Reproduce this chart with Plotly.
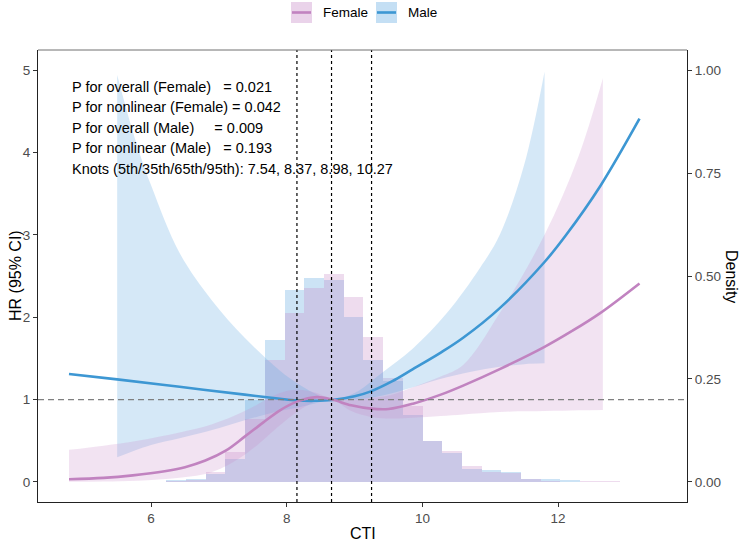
import plotly.graph_objects as go

# ---------------- data ----------------
# Histogram (density) bins
bin_edges = [6.224, 6.515, 6.805, 7.096, 7.386, 7.677, 7.967, 8.258, 8.548, 8.839, 9.129, 9.42,
             9.71, 10.001, 10.291, 10.582, 10.872, 11.163, 11.453, 11.744, 12.034, 12.325, 12.615, 12.906]
female_density = [0.002, 0.005, 0.024, 0.073, 0.154, 0.295, 0.41, 0.47, 0.506, 0.45, 0.352, 0.252,
                  0.184, 0.10, 0.074, 0.038, 0.024, 0.022, 0.007, 0.003, 0.001, 0.002, 0.002]
male_density = [0.004, 0.007, 0.020, 0.057, 0.198, 0.345, 0.467, 0.496, 0.49, 0.40, 0.295, 0.245,
                0.162, 0.10, 0.070, 0.032, 0.028, 0.024, 0.008, 0.008, 0.005, 0.0, 0.0]

# Spline HR curves
female_x = [4.79, 5.3, 5.73, 6.2, 6.5, 6.8, 7.1, 7.38, 7.65, 7.9, 8.15, 8.44, 8.67, 8.95, 9.24,
            9.5, 9.86, 10.27, 10.6, 11.14, 11.8, 12.2, 12.62, 13.2]
female_hr = [0.033, 0.05, 0.08, 0.13, 0.18, 0.26, 0.38, 0.55, 0.72, 0.87, 0.975, 1.03, 1.0, 0.93,
             0.89, 0.885, 0.95, 1.06, 1.17, 1.37, 1.64, 1.83, 2.05, 2.41]
male_x = [4.79, 5.5, 6.42, 7.38, 7.9, 8.15, 8.4, 8.67, 9.0, 9.24, 9.55, 9.86, 10.27, 10.6,
          11.14, 11.8, 12.12, 12.62, 13.2]
male_hr = [1.31, 1.245, 1.155, 1.06, 1.01, 0.99, 0.985, 0.995, 1.04, 1.10, 1.22, 1.37, 1.57, 1.75,
           2.11, 2.67, 3.0, 3.59, 4.41]

# 95% CI ribbons
female_ci_x = [4.79, 5.3, 5.8, 6.42, 6.9, 7.38, 7.9, 8.15, 8.44, 8.67, 8.95, 9.24, 9.55, 9.86, 10.27,
               10.6, 11.14, 11.8, 12.3, 12.66]
female_upper = [0.39, 0.44, 0.5, 0.6, 0.7, 0.86, 1.08, 1.12, 1.08, 1.0, 1.0, 1.02, 1.06, 1.15, 1.28,
                1.42, 2.05, 3.0, 3.95, 4.9]
female_lower = [0.003, 0.006, 0.015, 0.05, 0.12, 0.33, 0.69, 0.85, 0.98, 1.0, 0.86, 0.79, 0.77, 0.78,
                0.8, 0.82, 0.85, 0.86, 0.87, 0.874]
male_ci_x = [5.5, 5.75, 6.0, 6.42, 6.9, 7.38, 7.9, 8.15, 8.4, 8.67, 9.0, 9.41, 9.86, 10.36, 10.85,
             11.14, 11.5, 11.8]
male_upper = [4.94, 4.2, 3.6, 2.78, 2.2, 1.75, 1.35, 1.2, 1.08, 1.0, 1.08, 1.33, 1.62, 2.05, 2.6,
              3.0, 3.85, 4.98]
male_lower = [0.30, 0.38, 0.45, 0.53, 0.63, 0.75, 0.86, 0.9, 0.95, 1.0, 1.0, 1.05, 1.15, 1.27, 1.36,
              1.4, 1.43, 1.44]

cut_lines = [8.15, 8.66, 9.25]
stat_lines = [
    "P for overall (Female)\u00a0\u00a0\u00a0= 0.021",
    "P for nonlinear (Female) = 0.042",
    "P for overall (Male)\u00a0\u00a0\u00a0\u00a0\u00a0= 0.009",
    "P for nonlinear (Male)\u00a0\u00a0\u00a0= 0.193",
    "Knots (5th/35th/65th/95th): 7.54, 8.37, 8.98, 10.27",
]
stat_y = [4.8, 4.55, 4.3, 4.05, 3.8]
x_ticks = [6, 8, 10, 12]
hr_ticks = [0, 1, 2, 3, 4, 5]
dens_ticks = [0, 0.25, 0.5, 0.75, 1.0]
dens_labels = ["0.00", "0.25", "0.50", "0.75", "1.00"]

# ---------------- style ----------------
FONT = "Liberation Sans, Arial, sans-serif"
PINK = "rgb(193,131,192)"
BLUE = "rgb(61,151,211)"
PINK_BASE = "200,140,200"
BLUE_BASE = "100,170,225"

W, H = 744, 542
L, R, T, B = 38, 57, 50, 40
PW, PH = W - L - R, H - T - B


def px_x(p):
    return (p - L) / PW


def px_y(p):
    return (H - B - p) / PH


fig = go.Figure()

centers = [(bin_edges[i] + bin_edges[i + 1]) / 2 for i in range(len(bin_edges) - 1)]
widths = [bin_edges[i + 1] - bin_edges[i] for i in range(len(bin_edges) - 1)]

fig.add_trace(go.Bar(x=centers, y=male_density, width=widths, yaxis="y",
                     marker=dict(color=f"rgba({BLUE_BASE},0.33)", line=dict(width=0)),
                     showlegend=False, hoverinfo="skip"))
fig.add_trace(go.Bar(x=centers, y=female_density, width=widths, yaxis="y",
                     marker=dict(color=f"rgba({PINK_BASE},0.30)", line=dict(width=0)),
                     showlegend=False, hoverinfo="skip"))

# ribbons
for xs, lo, up, base, a in [(male_ci_x, male_lower, male_upper, BLUE_BASE, 0.27),
                            (female_ci_x, female_lower, female_upper, PINK_BASE, 0.24)]:
    fig.add_trace(go.Scatter(x=xs, y=lo, yaxis="y2", mode="lines", line=dict(width=0, shape="spline"),
                             showlegend=False, hoverinfo="skip"))
    fig.add_trace(go.Scatter(x=xs, y=up, yaxis="y2", mode="lines", line=dict(width=0, shape="spline"),
                             fill="tonexty", fillcolor=f"rgba({base},{a})",
                             showlegend=False, hoverinfo="skip"))

fig.add_trace(go.Scatter(x=male_x, y=male_hr, yaxis="y2", mode="lines",
                         line=dict(color=BLUE, width=2.6, shape="spline", smoothing=1.0),
                         showlegend=False))
fig.add_trace(go.Scatter(x=female_x, y=female_hr, yaxis="y2", mode="lines",
                         line=dict(color=PINK, width=2.6, shape="spline", smoothing=1.0),
                         showlegend=False))

shapes = []
# reference line HR = 1
shapes.append(dict(type="line", xref="paper", x0=0, x1=1, yref="y2", y0=1, y1=1,
                   line=dict(color="#7F7F7F", width=1.3, dash="6px,4px")))
for c in cut_lines:
    shapes.append(dict(type="line", xref="x", x0=c, x1=c, yref="paper", y0=0, y1=1,
                       line=dict(color="black", width=1.2, dash="dot")))
# top border (lighter)
shapes.append(dict(type="line", xref="paper", yref="paper", x0=0, x1=1, y0=1, y1=1,
                   line=dict(color="#707070", width=1)))

# legend keys
annotations = []
for x0, x1, base, col, label, tx in [(291, 312, PINK_BASE, PINK, "Female", 321),
                                     (376, 397, BLUE_BASE, BLUE, "Male", 406)]:
    shapes.append(dict(type="rect", xref="paper", yref="paper", x0=px_x(x0), x1=px_x(x1),
                       y0=px_y(23), y1=px_y(2), fillcolor=f"rgba({base},0.38)", line=dict(width=0)))
    shapes.append(dict(type="line", xref="paper", yref="paper", x0=px_x(x0 + 1), x1=px_x(x1 - 1),
                       y0=px_y(12.5), y1=px_y(12.5), line=dict(color=col, width=2.6)))
    annotations.append(dict(text=label, xref="paper", yref="paper", x=px_x(tx), y=px_y(12.5),
                            xanchor="left", yanchor="middle", showarrow=False,
                            font=dict(family=FONT, size=13.5, color="black")))

for txt, yv in zip(stat_lines, stat_y):
    annotations.append(dict(text=txt, xref="x", yref="y2", x=4.8, y=yv, xanchor="left",
                            yanchor="middle", showarrow=False,
                            font=dict(family=FONT, size=14.5, color="black")))

annotations.append(dict(text="CTI", xref="paper", yref="paper", x=0.5, y=px_y(533),
                        xanchor="center", yanchor="middle", showarrow=False,
                        font=dict(family=FONT, size=16, color="black")))
annotations.append(dict(text="HR (95% CI)", xref="paper", yref="paper", x=px_x(15), y=0.5,
                        xanchor="center", yanchor="middle", textangle=-90, showarrow=False,
                        font=dict(family=FONT, size=16, color="black")))
annotations.append(dict(text="Density", xref="paper", yref="paper", x=px_x(732), y=0.5,
                        xanchor="center", yanchor="middle", textangle=90, showarrow=False,
                        font=dict(family=FONT, size=16, color="black")))

tickfont = dict(family=FONT, size=13.5, color="#4D4D4D")
fig.update_layout(
    width=W, height=H, margin=dict(l=L, r=R, t=T, b=B, pad=0),
    paper_bgcolor="white", plot_bgcolor="white", barmode="overlay", bargap=0,
    showlegend=False, shapes=shapes, annotations=annotations,
    xaxis=dict(range=[4.333, 13.90], tickvals=x_ticks, ticks="outside", ticklen=4, tickwidth=1,
               tickcolor="#333333", showline=True, linecolor="#222222", linewidth=1,
               showgrid=False, zeroline=False, tickfont=tickfont),
    yaxis=dict(range=[-0.0486, 1.0486], side="right", tickvals=dens_ticks, ticktext=dens_labels,
               ticks="outside", ticklen=4, tickwidth=1, tickcolor="#333333", showline=True,
               linecolor="#222222", linewidth=1, showgrid=False, zeroline=False, tickfont=tickfont),
    yaxis2=dict(range=[-0.243, 5.243], overlaying="y", side="left", tickvals=hr_ticks,
                ticks="outside", ticklen=4, tickwidth=1, tickcolor="#333333", showline=True,
                linecolor="#222222", linewidth=1, showgrid=False, zeroline=False, tickfont=tickfont),
)

fig.write_html("out.html")
